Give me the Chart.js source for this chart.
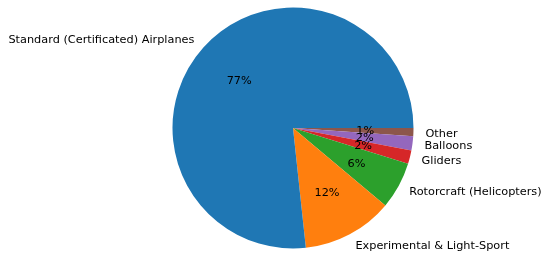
<!DOCTYPE html>
<html>
<head>
<meta charset="utf-8">
<script src="https://cdn.jsdelivr.net/npm/chart.js@4"></script>
<style>
  html, body { margin: 0; padding: 0; background: #fff; }
  #wrap { width: 542px; height: 253px; }
</style>
</head>
<body>
<div id="wrap"><canvas id="pieChart" width="542" height="253"></canvas></div>
<script>
const categories = ['Standard (Certificated) Airplanes', 'Experimental & Light-Sport', 'Rotorcraft (Helicopters)', 'Gliders', 'Balloons', 'Other'];
const shares = [76.7, 12.2, 6.3, 1.8, 1.9, 1.1];
const colors = ['#1f77b4', '#ff7f0e', '#2ca02c', '#d62728', '#9467bd', '#8c564b'];

// matplotlib draws counter-clockwise from 3 o'clock, so feed Chart.js the reverse order clockwise
const labels = categories.slice().reverse();
const values = shares.slice().reverse();
const bg = colors.slice().reverse();

const pieLabels = {
    id: 'pieLabels',
    afterDraw(chart) {
        const c = chart.ctx;
        const total = values.reduce((a, b) => a + b, 0);
        c.save();
        c.font = '11.3px "DejaVu Sans"';
        c.fillStyle = '#000';
        c.textBaseline = 'middle';
        chart.getDatasetMeta(0).data.forEach((arc, i) => {
            const mid = (arc.startAngle + arc.endAngle) / 2;
            const r = arc.outerRadius;
            const cos = Math.cos(mid), sin = Math.sin(mid);
            c.textAlign = cos >= 0 ? 'left' : 'right';
            c.fillText(labels[i], arc.x + 1.1 * r * cos, arc.y + 1.1 * r * sin + 1);
            c.textAlign = 'center';
            const pct = Math.round(values[i] / total * 100) + '%';
            c.fillText(pct, arc.x + 0.6 * r * cos, arc.y + 0.6 * r * sin + 1);
        });
        c.restore();
    }
};

new Chart(document.getElementById('pieChart'), {
    type: 'pie',
    data: {
        labels: labels,
        datasets: [{
            data: values,
            backgroundColor: bg,
            borderWidth: 0
        }]
    },
    options: {
        responsive: false,
        animation: false,
        rotation: 90,
        layout: { padding: { left: 172.5, right: 128.5, top: 7.5, bottom: 4.5 } },
        plugins: {
            legend: { display: false },
            tooltip: { enabled: false }
        }
    },
    plugins: [pieLabels]
});
</script>
</body>
</html>
